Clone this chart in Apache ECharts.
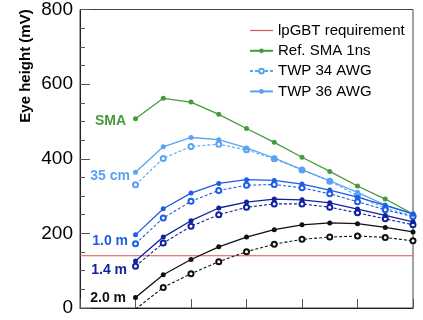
<!DOCTYPE html>
<html>
<head>
<meta charset="utf-8">
<script src="https://cdn.jsdelivr.net/npm/echarts@6/dist/echarts.min.js"></script>
<style>html,body{margin:0;padding:0;background:#fff;}#c{width:423px;height:320px;}</style>
</head>
<body>
<div id="c"></div>
<script>
// x positions of the measurement points (axis labels are cut off in the reference)
const xs = [2, 3, 4, 5, 6, 7, 8, 9, 10, 11, 12];
const requirement = 140;
const sma      = [507, 562, 552, 519, 481, 444, 404, 366, 327, 292, 252];
const twp36_35 = [364, 432, 457, 451, 429, 402, 371, 341, 310, 276, 252];
const twp34_35 = [330, 401, 433, 439, 424, 400, 370, 340, 301, 267, 247];
const twp36_10 = [196, 266, 308, 334, 344, 342, 332, 316, 297, 275, 252];
const twp34_10 = [172, 241, 286, 315, 329, 331, 322, 306, 285, 263, 245];
const twp36_14 = [126, 190, 234, 268, 284, 292, 290, 282, 265, 248, 231];
const twp34_14 = [112, 174, 219, 250, 270, 279, 279, 270, 255, 239, 223];
const twp36_20 = [28, 89, 130, 164, 190, 210, 223, 228, 226, 216, 204];
const twp34_20 = [-3, 55, 92, 124, 151, 171, 184, 190, 193, 189, 180];
const groupLabels = ['SMA', '35 cm', '1.0 m', '1.4 m', '2.0 m'];
const yTicks = [0, 200, 400, 600, 800];

const FONT = 'Liberation Sans, Arial, Helvetica, sans-serif';
const C = {
  red: '#d9534f', green: '#449a3c', light: '#5aa2f2', blue: '#1e5de6', navy: '#10239c', black: '#111111'
};

function mk(vals, label, lblColor, lblDist, lblOff) {
  return vals.map((v, i) => {
    const d = { value: [xs[i], v] };
    if (i === 0 && label) {
      d.label = {
        show: true, position: 'left', formatter: label, distance: lblDist, offset: lblOff,
        color: lblColor, fontSize: 14, fontWeight: 'bold', fontFamily: FONT
      };
    }
    return d;
  });
}
function solid(name, color, vals, label, dist, off) {
  return {
    type: 'line', name: name, data: mk(vals, label, color, dist, off),
    symbol: 'circle', symbolSize: 5, color: color,
    lineStyle: { color: color, width: 1.3 }, itemStyle: { color: color },
    emphasis: { disabled: true }, z: 3
  };
}
function dashed(name, color, vals) {
  return {
    type: 'line', name: name, data: mk(vals),
    symbol: 'emptyCircle', symbolSize: 5, color: color,
    lineStyle: { color: color, width: 1.1, type: [3, 2] },
    itemStyle: { color: color, borderColor: color, borderWidth: 0.6 },
    emphasis: { disabled: true }, z: 2
  };
}

const chart = echarts.init(document.getElementById('c'), null, { renderer: 'canvas' });
chart.setOption({
  animation: false,
  backgroundColor: '#fff',
  grid: { left: 80, right: 10, top: 8, bottom: 12, show: true, borderColor: '#444', borderWidth: 1 },
  xAxis: {
    type: 'value', min: 0, max: 12, interval: 2,
    axisLine: { show: true, lineStyle: { color: '#222' } },
    axisTick: { show: true, inside: true, length: 9, lineStyle: { color: '#555' } },
    axisLabel: { show: false }, splitLine: { show: false }
  },
  yAxis: {
    type: 'value', min: yTicks[0], max: yTicks[yTicks.length - 1], interval: 200,
    axisLine: { show: true, lineStyle: { color: '#222' } },
    axisTick: { show: true, inside: true, length: 10, lineStyle: { color: '#555' } },
    minorTick: { show: true, splitNumber: 4, length: 5, lineStyle: { color: '#555' } },
    axisLabel: { color: '#000', fontSize: 19, fontFamily: FONT, margin: 7 },
    splitLine: { show: false }
  },
  legend: {
    orient: 'vertical', left: 249, top: 23, padding: 0, itemGap: 5.3,
    itemWidth: 23, itemHeight: 6,
    textStyle: { fontSize: 15, color: '#000', fontFamily: FONT },
    data: [
      { name: 'lpGBT requirement', icon: 'path://M0,0L23,0L23,1.2L0,1.2Z', itemStyle: { color: C.red } },
      'Ref. SMA 1ns', 'TWP 34 AWG', 'TWP 36 AWG'
    ]
  },
  graphic: [{
    type: 'text', x: 26, y: 66, rotation: Math.PI / 2,
    style: { text: 'Eye height (mV)', font: 'bold 15px ' + FONT, fill: '#000', textAlign: 'center', textVerticalAlign: 'middle' }
  }],
  series: [
    {
      type: 'line', name: 'lpGBT requirement', data: [[0, requirement], [12, requirement]],
      symbol: 'none', color: C.red, lineStyle: { color: C.red, width: 1.2 }, z: 1, emphasis: { disabled: true }
    },
    solid('Ref. SMA 1ns', C.green, sma, groupLabels[0], 7, [0, 2]),
    dashed('TWP 34 AWG', C.light, twp34_35),
    solid('TWP 36 AWG', C.light, twp36_35, groupLabels[1], 3, [0, 4]),
    dashed('TWP 34 AWG', C.blue, twp34_10),
    solid('TWP 36 AWG', C.blue, twp36_10, groupLabels[2], 5, [0, 6]),
    dashed('TWP 34 AWG', C.navy, twp34_14),
    solid('TWP 36 AWG', C.navy, twp36_14, groupLabels[3], 6, [0, 9]),
    dashed('TWP 34 AWG', C.black, twp34_20),
    solid('TWP 36 AWG', C.black, twp36_20, groupLabels[4], 7, [0, 1])
  ]
});
</script>
</body>
</html>
